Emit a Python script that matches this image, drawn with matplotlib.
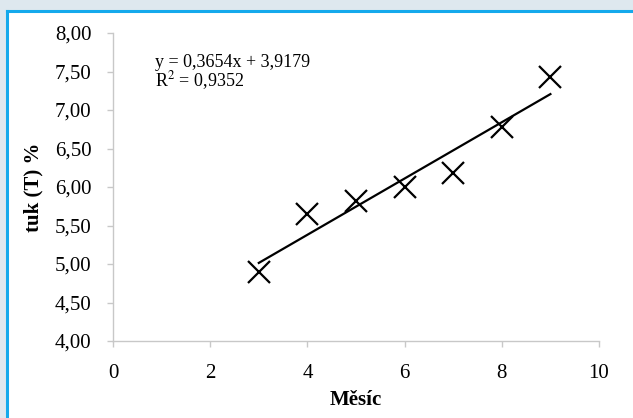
import matplotlib
matplotlib.use("Agg")
import matplotlib.pyplot as plt
import numpy as np
from matplotlib.patches import Rectangle
from matplotlib.lines import Line2D

months = [3, 4, 5, 6, 7, 8, 9]
fat = [4.89, 5.65, 5.82, 6.00, 6.18, 6.78, 7.43]
slope, intercept = 0.3654, 3.9179
r2_text = "0,9352"
x_ticks = [0, 2, 4, 6, 8, 10]
y_ticks = [4.0, 4.5, 5.0, 5.5, 6.0, 6.5, 7.0, 7.5, 8.0]

W, H = 633, 418
fig = plt.figure(figsize=(W/100, H/100), dpi=100, facecolor="#dee8ef")
# white panel and blue frame
fig.patches.append(Rectangle((8/W, 0), 1, 1 - 12/H, transform=fig.transFigure,
                             facecolor="white", edgecolor="none", zorder=-10))
fig.lines.append(Line2D([7/W, 7/W], [0, 1 - 11/H], transform=fig.transFigure,
                        color="#14a9ec", lw=2.2, zorder=-5))
fig.lines.append(Line2D([7/W, 1], [1 - 11/H, 1 - 11/H], transform=fig.transFigure,
                        color="#14a9ec", lw=2.2, zorder=-5))

ax = fig.add_axes([113/W, 1 - 341/H, (599-113)/W, (341-33)/H])
ax.set_zorder(1)
ax.set_facecolor("none")
serif = "Liberation Serif"
fs = 15

ax.plot(months, fat, linestyle="none", marker="x", markersize=16,
        markeredgewidth=1.6, color="black")
xt = np.array([months[0], months[-1]])
ax.plot(xt, slope*xt + intercept, color="black", lw=1.6)

ax.set_xlim(0, 10)
ax.set_ylim(4, 8)
ax.set_xticks(x_ticks)
ax.set_yticks(y_ticks)
ax.set_xticklabels([str(v) for v in x_ticks], fontname=serif, fontsize=fs)
ax.set_yticklabels([f"{v:.2f}".replace(".", ",") for v in y_ticks],
                   fontname=serif, fontsize=fs)
for s in ["top", "right"]:
    ax.spines[s].set_visible(False)
for s in ["left", "bottom"]:
    ax.spines[s].set_color("#c8c8c8")
    ax.spines[s].set_linewidth(1.0)
ax.tick_params(axis="both", direction="out", length=4, color="#c8c8c8", width=1.0)
ax.tick_params(axis="y", pad=11.5)
ax.tick_params(axis="x", pad=12.5)

ax.set_xlabel("Měsíc", fontname=serif, fontsize=fs, fontweight="bold", labelpad=5)
ax.set_ylabel("tuk (T) %", fontname=serif, fontsize=fs, fontweight="bold", labelpad=8)

eq = f"y = {slope:.4f}x + {intercept:.4f}".replace(".", ",")
ax.text(0.87, 7.62, eq, fontname=serif, fontsize=13, va="center", ha="left")
ax.text(0.87, 7.38, r"R$^2$ = " + r2_text, fontname=serif, fontsize=13,
        va="center", ha="left", math_fontfamily="stix")

fig.savefig("out.png", dpi=100, facecolor=fig.get_facecolor())
